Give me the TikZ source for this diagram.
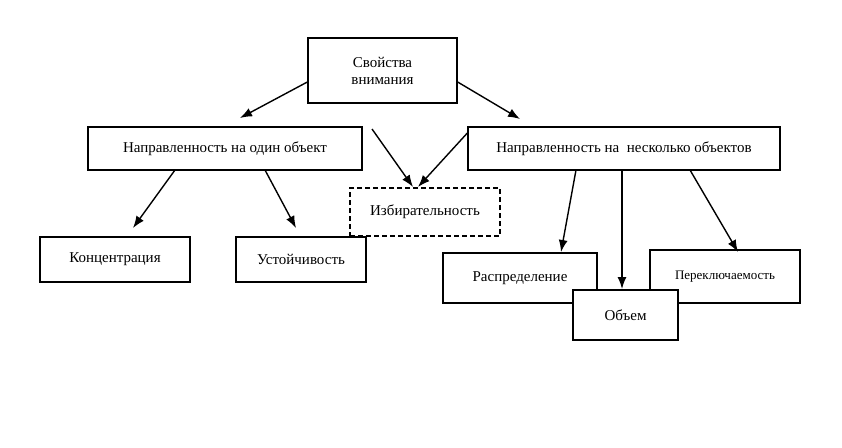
\documentclass[tikz,border=0pt]{standalone}
\usepackage{fontspec}
\setmainfont{Liberation Serif}
\usetikzlibrary{arrows.meta}
\begin{document}
\begin{tikzpicture}[x=1pt,y=-1pt,
 box/.style={draw,line width=1.3pt,align=center,font=\fontsize{15}{17}\selectfont},
 arr/.style={-{Latex[length=12pt,width=9pt]},line width=1.4pt}]
\useasboundingbox (0,0) rectangle (842,447);
\fill[white] (0,0) rectangle (842,447);
\node[box,minimum width=149,minimum height=65] (sv) at (382.5,70.5) {Свойства\\внимания};
\node[box,minimum width=274,minimum height=43] (one) at (225,148.5) {Направленность на один объект};
\node[box,minimum width=312,minimum height=43] (many) at (624,148.5) {Направленность на \ несколько объектов};
\node[box,dash pattern=on 5pt off 3pt,minimum width=150,minimum height=48] (iz) at (425,212) {Избирательность};
\node[box,minimum width=150,minimum height=45] (kon) at (115,259.5) {Концентрация};
\node[box,minimum width=130,minimum height=45] (ust) at (301,259.5) {Устойчивость};
\node[box,minimum width=154,minimum height=50] (ras) at (520,278) {Распределение};
\node[box,minimum width=150,minimum height=53,font=\fontsize{13}{15}\selectfont] (per) at (725,276.5) {Переключаемость};
\node[box,minimum width=105,minimum height=50,fill=white] (ob) at (625.5,315) {Объем};
\draw[arr] (sv.west|-0,82) -- (240,118);
\draw[arr] (sv.east|-0,82) -- (520,119);
\draw[arr] (372,129) -- (413,187);
\draw[arr] (many.west|-0,133) -- (418,187);
\draw[arr] (175,170) -- (133,228);
\draw[arr] (265,170) -- (296,228);
\draw[arr] (576,170) -- (561,252);
\draw[arr] (622,170) -- (622,289);
\draw[arr] (690,170) -- (738,252);
\end{tikzpicture}
\end{document}
